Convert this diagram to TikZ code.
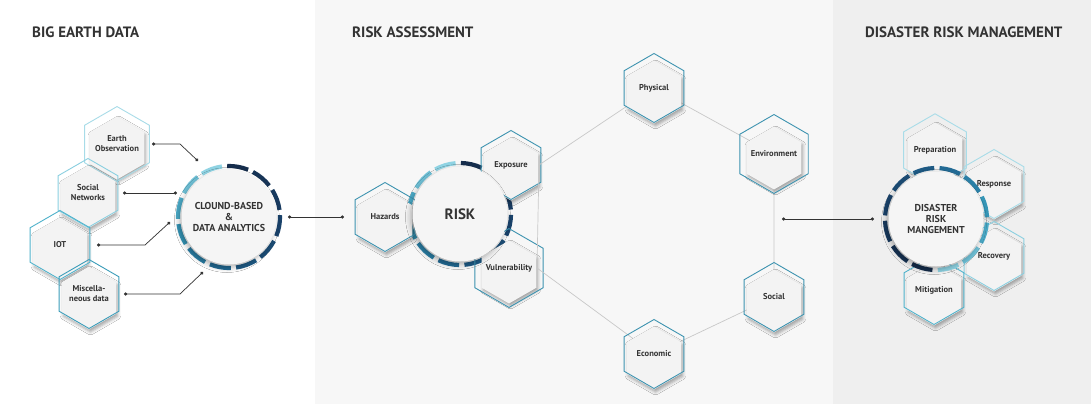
\documentclass[tikz,border=0pt]{standalone}
\usepackage{fontspec}
\setmainfont{PT Sans}
\usepackage{xcolor}
\usepackage{tikz}
\usetikzlibrary{
  arrows.meta,
  calc,
  shadows.blur,
  shapes.geometric
}
\definecolor{txtgray}{HTML}{333333}
\definecolor{midbg}{HTML}{F7F7F7}
\definecolor{rightbg}{HTML}{EFEFEF}
\definecolor{webgray}{HTML}{C8C8C8}
\definecolor{hexfill}{HTML}{F3F3F3}
\definecolor{discfill}{HTML}{F5F5F5}
\definecolor{rimA}{HTML}{A8DCE8}
\definecolor{rimB}{HTML}{8ACFE0}
\definecolor{rimC}{HTML}{4FB2CB}
\definecolor{rimD}{HTML}{3A9CB9}
\definecolor{rimM}{HTML}{3D93B0}
\definecolor{rg0}{HTML}{8FD3E3}
\definecolor{rg1}{HTML}{6FC0D6}
\definecolor{rg2}{HTML}{4AA9C6}
\definecolor{rg3}{HTML}{3595B6}
\definecolor{rg4}{HTML}{2A7FA6}
\definecolor{rg5}{HTML}{226A94}
\definecolor{rg6}{HTML}{1E5A84}
\definecolor{rg7}{HTML}{1C4D76}
\definecolor{rg8}{HTML}{1A426A}
\definecolor{rg9}{HTML}{183A5F}
\definecolor{rg10}{HTML}{173456}
\definecolor{rg11}{HTML}{152D4C}
% hexagon cell: name, position, rim colour, label
\newcommand{\hexcell}[4]{%
  \node[hexbody] (#1-body) at ($(#2)+(0,4)$) {};
  \node[hexrim, draw=#3] (#1) at (#2) {#4};
}
% dashed colour ring: centre, start angle
\newcommand{\segring}[2]{%
  \foreach \k in {0,...,11}{
    \pgfmathsetmacro{\sa}{#2+30*\k}
    \pgfmathsetmacro{\ea}{#2+30*\k+24}
    \draw[ringseg, draw=rg\k] ($(#1)+(\sa:51pt)$) arc[start angle=\sa, end angle=\ea, radius=51pt];
  }
}

\begin{document}
\begin{tikzpicture}[
  x=1pt, y=-1pt,
  every node/.style={font=\bfseries, text=txtgray},
  title/.style={font=\bfseries\fontsize{15}{18}\selectfont, anchor=west, inner sep=0pt},
  hexbody/.style={regular polygon, regular polygon sides=6, shape border rotate=30, minimum size=63pt, inner sep=0pt, fill=hexfill,
    blur shadow={shadow xshift=1.5pt, shadow yshift=-2.5pt, shadow blur radius=3pt, shadow opacity=35}},
  hexrim/.style={regular polygon, regular polygon sides=6, shape border rotate=30, minimum size=69pt, inner sep=1pt, line width=0.9pt,
    align=center, font=\bfseries\fontsize{8.5}{10}\selectfont},
  disc/.style={circle, minimum size=95pt, inner sep=0pt, fill=discfill, align=center, font=\bfseries\fontsize{10}{11}\selectfont,
    blur shadow={shadow xshift=-2pt, shadow yshift=-3pt, shadow blur radius=5pt, shadow opacity=30}},
  ringseg/.style={line width=4.2pt},
  web/.style={draw=webgray, line width=0.7pt},
  link/.style={draw=txtgray, line width=0.7pt, arrows={Circle[length=3.2pt]-Circle[length=3.2pt]}}
]
  \useasboundingbox (0,0) rectangle (1091,404);

  % panels
  \fill[white] (0,0) rectangle (315,404);
  \fill[midbg] (315,0) rectangle (833,404);
  \fill[rightbg] (833,0) rectangle (1091,404);

  \node[title] (t-big) at (32,32) {BIG EARTH DATA};
  \node[title] (t-risk) at (352,32) {RISK ASSESSMENT};
  \node[title] (t-drm) at (865,32) {DISASTER RISK MANAGEMENT};

  \coordinate (c-cloud) at (229,217);
  \coordinate (c-risk) at (460,214);
  \coordinate (c-drm) at (936,219);

  % big earth data
  \segring{c-cloud}{98}
  \hexcell{eo}{117,144}{rimA}{Earth\\Observation}
  \hexcell{sn}{88,193}{rimB}{Social\\Networks}
  \hexcell{iot}{60,245}{rimC}{IOT}
  \hexcell{misc}{89,294}{rimD}{Miscella-\\neous data}
  \node[disc] (cloud) at (c-cloud) {CLOUND-BASED\\\&\\DATA ANALYTICS};

  % risk assessment
  \coordinate (w-expo) at (539,165);
  \coordinate (w-vul) at (537,268);
  \segring{c-risk}{95}
  \hexcell{hz}{385,217}{rimM}{Hazards}
  \hexcell{expo}{511,165}{rimM}{Exposure}
  \hexcell{vul}{509,268}{rimM}{Vulnerability}
  \draw[web] (w-expo) -- (654,88) coordinate (w-phys) -- (774,154) coordinate (w-env)
    -- (774,297) coordinate (w-soc) -- (654,354) coordinate (w-eco) -- (w-vul) -- (w-expo);
  \hexcell{phys}{w-phys}{rimM}{Physical}
  \hexcell{env}{w-env}{rimM}{Environment}
  \hexcell{soc}{w-soc}{rimM}{Social}
  \hexcell{eco}{w-eco}{rimM}{Economic}
  \node[disc, font=\bfseries\fontsize{15}{18}\selectfont] (risk) at (c-risk) {RISK};

  % disaster risk management
  \hexcell{prep}{935,150}{rimA}{Preparation}
  \hexcell{resp}{994,184}{rimA}{Response}
  \hexcell{reco}{994,256}{rimB}{Recovery}
  \hexcell{miti}{934,290}{rimC}{Mitigation}
  \segring{c-drm}{-88}
  \node[disc] (drm) at (c-drm) {DISASTER\\RISK\\MANGEMENT};

  % links
  \coordinate (d-eo) at ($(cloud)+(-31,-56)$);
  \coordinate (d-sn) at ($(cloud)+(-52,-24)$);
  \coordinate (d-iot) at ($(cloud)+(-59,5)$);
  \coordinate (d-misc) at ($(cloud)+(-26,55)$);
  \draw[link] ([xshift=35pt]eo.center) -- ++(28,0) -- (d-eo);
  \draw[link] ([xshift=35pt]sn.center) -- (d-sn);
  \draw[link] ([xshift=37pt]iot.center) -- ++(48,0) -- (d-iot);
  \draw[link] ([xshift=35pt]misc.center) -- ++(56,0) -- (d-misc);
  \draw[link] ([xshift=59pt]cloud.center) -- ([xshift=-41pt]hz.center);

  \coordinate (rk-out) at ($(env |- drm)+(8,0)$);
  \draw[link] (rk-out) -- ([xshift=-62pt]drm.center);

\end{tikzpicture}
\end{document}
